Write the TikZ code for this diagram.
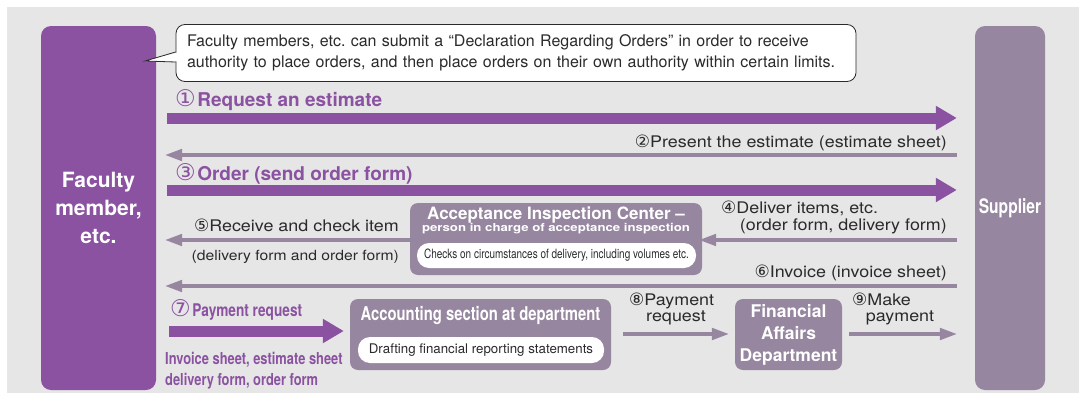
\documentclass[tikz,border=0pt]{standalone}
\usepackage{fontspec}
\setmainfont{TeX Gyre Heros}
\newfontfamily\circfont{DejaVu Sans}
\newfontfamily\condfont[FakeStretch=0.78]{TeX Gyre Heros}
\newfontfamily\widefont[FakeStretch=1.2]{TeX Gyre Heros}
\newfontfamily\labfont[FakeStretch=1.12]{TeX Gyre Heros}
\usetikzlibrary{arrows.meta}
\definecolor{purp}{HTML}{8B52A1}
\definecolor{mauve}{HTML}{96869F}
\definecolor{bggray}{HTML}{E6E6E6}
\definecolor{txt}{HTML}{2A2A2A}
\frenchspacing
% circled numbers
\newcommand{\cn}[1]{{\circfont\mdseries\fontsize{17}{17}\selectfont #1}}
\newcommand{\bcn}[1]{{\circfont\mdseries\fontsize{23}{23}\selectfont #1}\kern1.5pt}
\begin{document}
\begin{tikzpicture}[x=1pt,y=-1pt,
  every node/.style={inner sep=0pt},
  party/.style={rounded corners=10pt, text=white, align=center, minimum height=364pt},
  unit/.style={fill=mauve, rounded corners=8pt},
  inbox/.style={fill=white, rounded corners=12pt, text=txt},
  bigarrow/.style={purp, line width=11pt, -{Triangle[length=21pt,width=23pt]}},
  thinarrow/.style={mauve, line width=4.5pt, -{Triangle[length=18pt,width=11pt]}},
  lab/.style={text=txt, font=\labfont\fontsize{16}{16}\selectfont},
  blab/.style={text=purp, font=\fontsize{19}{19}\selectfont\bfseries},
  clab/.style={text=purp, font=\condfont\fontsize{16.5}{21}\selectfont\bfseries},
]
\useasboundingbox (0,0) rectangle (1079,399);
\fill[bggray] (7,7) rectangle (1079,393);

% the two parties
\node[party, fill=purp, minimum width=115pt, font=\fontsize{21}{28}\selectfont\bfseries] (fac) at (98.5,208) {Faculty\\member,\\etc.};
\node[party, fill=mauve, minimum width=70pt, font=\condfont\fontsize{20}{22}\selectfont\bfseries] (sup) at (1010,208) {Supplier};

% note
\node[draw=txt, line width=0.8pt, fill=white, rounded corners=9pt, text=txt, align=left,
  text width=658pt, inner xsep=11pt, minimum height=57pt,
  font=\fontsize{16}{21}\selectfont] (note) at (516,53)
  {Faculty members, etc. can submit a “Declaration Regarding Orders” in order to receive\\
   authority to place orders, and then place orders on their own authority within certain limits.};
\coordinate (tip) at (145,61);
\fill[white] (177.5,52.5) -- (tip) -- (177.5,61.5) -- cycle;
\draw[txt, line width=0.8pt] (note.west |- 0,52) -- (tip) -- (note.west |- 0,62);

% rows
\coordinate (row1) at (0,118);
\coordinate (row2) at (0,155);
\coordinate (row3) at (0,190);
\coordinate (row4) at (0,240);
\coordinate (row6) at (0,286);
\coordinate (row7) at (0,331);
\coordinate (row8) at (0,334);

% inspection and accounting units
\node[unit, minimum width=292pt, minimum height=72pt] (acc) at (556,239) {};
\node[text=white, anchor=base, font=\fontsize{17}{17}\selectfont\bfseries] (acctitle) at (556,219) {Acceptance Inspection Center –};
\node[text=white, anchor=base, font=\widefont\fontsize{11}{11}\selectfont\bfseries] (accsub) at (556,231) {person in charge of acceptance inspection};
\node[inbox, minimum width=279pt, minimum height=25pt, font=\condfont\fontsize{12.8}{12.8}\selectfont] (acccheck) at (556.5,255.5) {Checks on circumstances of delivery, including volumes etc.};

\node[unit, minimum width=261pt, minimum height=71pt] (dept) at (480.5,334.5) {};
\node[text=white, anchor=base, font=\condfont\fontsize{19}{19}\selectfont\bfseries] (depttitle) at (480.5,320) {Accounting section at department};
\node[inbox, minimum width=246pt, minimum height=26pt, font=\fontsize{13.3}{13.3}\selectfont] (deptdraft) at (481,350) {Drafting financial reporting statements};

\node[unit, minimum width=107pt, minimum height=71pt, text=white, align=center, font=\fontsize{17.5}{22}\selectfont\bfseries] (fin) at (788.5,334.5) {Financial\\Affairs\\Department};

% labels
\node[blab, anchor=base west] (lab1) at (175,106) {\bcn{①}Request an estimate};
\node[lab, anchor=base east] (lab2) at (947,147) {\cn{②}Present the estimate (estimate sheet)};
\node[blab, anchor=base west] (lab3) at (175,180) {\bcn{③}Order (send order form)};
\node[lab, anchor=base west] (lab4a) at (721,213) {\cn{④}Deliver items, etc.};
\node[lab, anchor=base east] (lab4b) at (947,230) {(order form, delivery form)};
\node[lab, anchor=base east] (lab5a) at (399,231) {\cn{⑤}Receive and check item};
\node[lab, anchor=base east, font=\labfont\fontsize{14}{14}\selectfont] (lab5b) at (399,260) {(delivery form and order form)};
\node[lab, anchor=base east] (lab6) at (947,277) {\cn{⑥}Invoice (invoice sheet)};
\node[clab, anchor=base west, font=\condfont\fontsize{17.5}{21}\selectfont\bfseries] (lab7) at (170,316) {\bcn{⑦} Payment request};
\node[clab, anchor=base west] (lab7b) at (165,364) {Invoice sheet, estimate sheet};
\node[clab, anchor=base west] (lab7c) at (165,385) {delivery form, order form};
\node[lab, anchor=base west] (lab8a) at (629,305) {\cn{⑧}Payment};
\node[lab, anchor=base] (lab8b) at (676,321) {request};
\node[lab, anchor=base west] (lab9a) at (852,305) {\cn{⑨}Make};
\node[lab, anchor=base] (lab9b) at (900,321) {payment};

% connectors
\draw[bigarrow, shorten <=11pt, shorten >=18pt] (fac.east |- row1) -- (sup.west |- row1);
\draw[thinarrow, shorten <=18pt, shorten >=8pt] (sup.west |- row2) -- (fac.east |- row2);
\draw[bigarrow, shorten <=11pt, shorten >=18pt] (fac.east |- row3) -- (sup.west |- row3);
\draw[thinarrow, shorten <=18pt, shorten >=-4pt] (sup.west |- row4) -- (acc.east |- row4);
\draw[thinarrow, shorten <=-4pt, shorten >=8pt] (acc.west |- row4) -- (fac.east |- row4);
\draw[thinarrow, shorten <=18pt, shorten >=8pt] (sup.west |- row6) -- (fac.east |- row6);
\draw[bigarrow, shorten <=13pt, shorten >=6pt] (fac.east |- row7) -- (dept.west |- row7);
\draw[thinarrow, shorten <=12pt, shorten >=5pt] (dept.east |- row8) -- (fin.west |- row8);
\draw[thinarrow, shorten <=7pt, shorten >=17pt] (fin.east |- row8) -- (sup.west |- row8);
\end{tikzpicture}
\end{document}
